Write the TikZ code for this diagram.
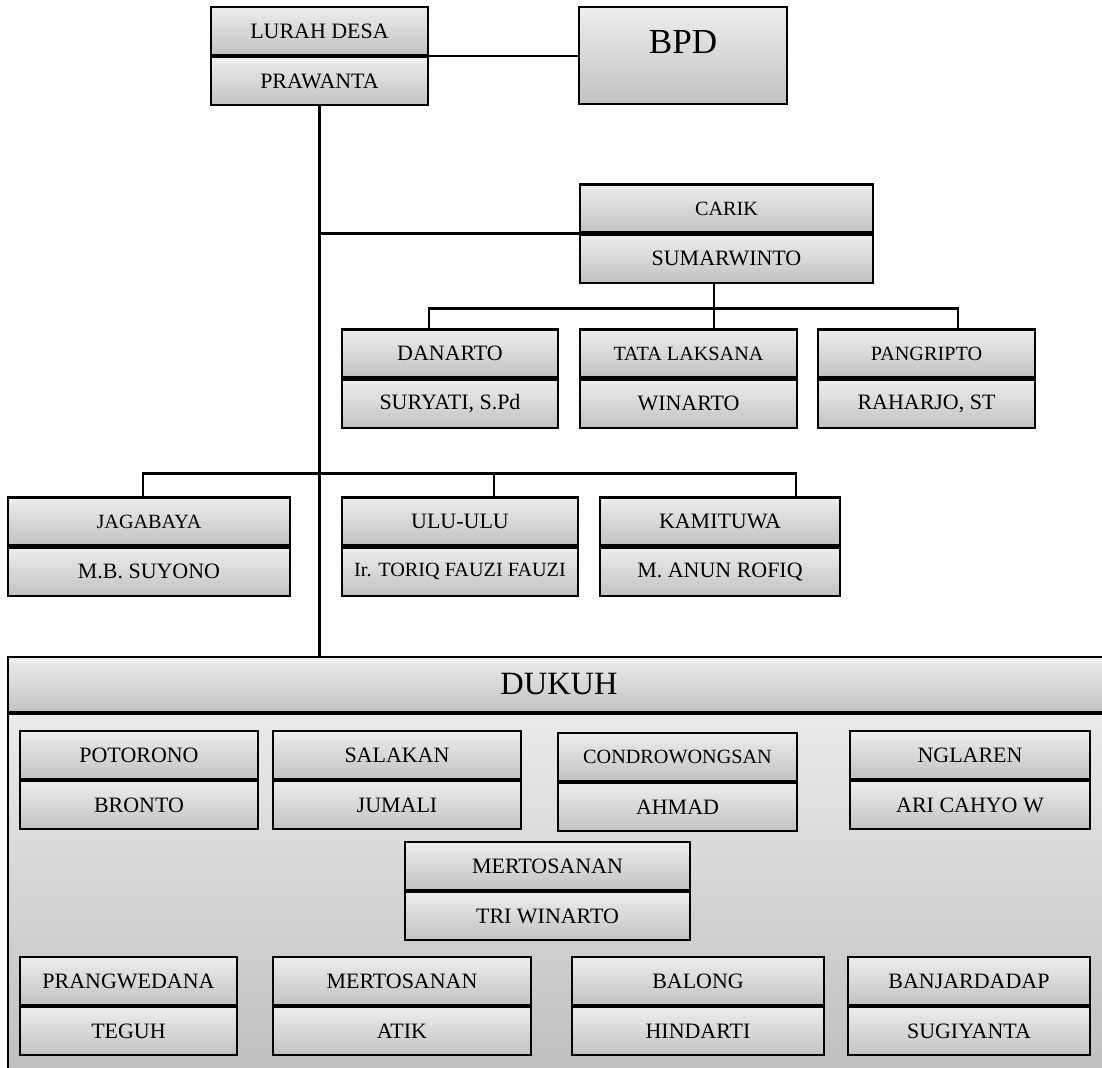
\documentclass[tikz,border=0pt]{standalone}
\usepackage{fontspec}
\setmainfont{Liberation Serif}
\usetikzlibrary{positioning}
\definecolor{kotakatas}{HTML}{EDEDED}
\definecolor{kotakbawah}{HTML}{C2C2C2}
\definecolor{isiatas}{HTML}{EAEAEA}
\definecolor{isibawah}{HTML}{BEBEBE}

\begin{document}
\begin{tikzpicture}[x=0.02cm, y=-0.02cm,
    kotak/.style={draw, line width=1.3pt, top color=kotakatas, bottom color=kotakbawah,
        minimum height=0.96cm, inner sep=0pt, font=\fontsize{12.5}{14}\selectfont},
    kecil/.style={font=\fontsize{11.5}{13}\selectfont},
    lebar/.style={minimum width=#1*0.02cm},
    garis/.style={line width=1.3pt, black}]
    \useasboundingbox (0,0) rectangle (1102,1068);
    \clip (0,0) rectangle (1102,1068);

    % lurah dan BPD
    \node[kotak, lebar=217] (lurah) at (319.5,31) {LURAH DESA};
    \node[kotak, lebar=217, below=0pt of lurah] (lurahN) {PRAWANTA};
    \node[kotak, lebar=208, minimum height=97*0.02cm, font=\fontsize{20}{24}\selectfont,
        text depth=15pt] (bpd) at (683,55.5) {BPD};

    % carik dan stafnya
    \node[kotak, kecil, lebar=293] (carik) at (726.5,208.5) {CARIK};
    \node[kotak, lebar=293, below=0pt of carik] (carikN) {SUMARWINTO};

    \node[kotak, lebar=216] (danarto) at (450,353.5) {DANARTO};
    \node[kotak, lebar=216, below=0pt of danarto] (danartoN) {SURYATI, S.Pd};
    \node[kotak, kecil, lebar=217] (tata) at (688.5,353.5) {TATA LAKSANA};
    \node[kotak, lebar=217, below=0pt of tata] (tataN) {WINARTO};
    \node[kotak, kecil, lebar=217] (pangripto) at (926.5,353.5) {PANGRIPTO};
    \node[kotak, lebar=217, below=0pt of pangripto] (pangriptoN) {RAHARJO, ST};

    % pelaksana wilayah
    \node[kotak, kecil, lebar=282] (jagabaya) at (149,521.5) {JAGABAYA};
    \node[kotak, lebar=282, below=0pt of jagabaya] (jagabayaN) {M.B. SUYONO};
    \node[kotak, lebar=236] (ulu) at (460,521.5) {ULU-ULU};
    \node[kotak, kecil, lebar=236, below=0pt of ulu] (uluN) {Ir. TORIQ FAUZI FAUZI};
    \node[kotak, lebar=240] (kamituwa) at (720,521.5) {KAMITUWA};
    \node[kotak, lebar=240, below=0pt of kamituwa] (kamituwaN) {M. ANUN ROFIQ};

    % dukuh
    \node[kotak, lebar=1102, minimum height=55*0.02cm, font=\fontsize{18.5}{22}\selectfont]
        (dukuh) at (559,684.5) {DUKUH};
    \node[draw, line width=1.3pt, top color=isiatas, bottom color=isibawah, lebar=1102,
        minimum height=370*0.02cm, below=0pt of dukuh] (dukuhisi) {};

    \node[kotak, lebar=238] (potorono) at (139,755) {POTORONO};
    \node[kotak, lebar=238, below=0pt of potorono] (potoronoN) {BRONTO};
    \node[kotak, lebar=248] (salakan) at (397,755) {SALAKAN};
    \node[kotak, lebar=248, below=0pt of salakan] (salakanN) {JUMALI};
    \node[kotak, kecil, lebar=239] (condro) at (677.5,757) {CONDROWONGSAN};
    \node[kotak, lebar=239, below=0pt of condro] (condroN) {AHMAD};
    \node[kotak, lebar=240] (nglaren) at (970,755) {NGLAREN};
    \node[kotak, lebar=240, below=0pt of nglaren] (nglarenN) {ARI CAHYO W};

    \node[kotak, lebar=285] (merto) at (547.5,866) {MERTOSANAN};
    \node[kotak, lebar=285, below=0pt of merto] (mertoN) {TRI WINARTO};

    \node[kotak, lebar=217] (prang) at (128.5,981) {PRANGWEDANA};
    \node[kotak, lebar=217, below=0pt of prang] (prangN) {TEGUH};
    \node[kotak, lebar=258] (mertob) at (402,981) {MERTOSANAN};
    \node[kotak, lebar=258, below=0pt of mertob] (mertobN) {ATIK};
    \node[kotak, lebar=252] (balong) at (698,981) {BALONG};
    \node[kotak, lebar=252, below=0pt of balong] (balongN) {HINDARTI};
    \node[kotak, lebar=242] (banjar) at (969,981) {BANJARDADAP};
    \node[kotak, lebar=242, below=0pt of banjar] (banjarN) {SUGIYANTA};

    % garis
    \draw[garis] (lurah.south east) -- (lurah.south east -| bpd.west);
    \draw[garis] (lurahN.south) -- (lurahN.south |- dukuh.north);
    \draw[garis] (carik.south west) -- (carik.south west -| lurahN.south);
    \draw[garis] (carikN.south -| 714,0) -- (tata.north -| 714,0);
    \draw[garis] (danarto.north -| 429,0) -- ++(0,-20) -| (pangripto.north -| 958,0);
    \draw[garis] (jagabaya.north -| 143,0) -- ++(0,-23) -| (kamituwa.north -| 796,0);
    \draw[garis] (ulu.north -| 494,0) -- ++(0,-23);
\end{tikzpicture}
\end{document}
